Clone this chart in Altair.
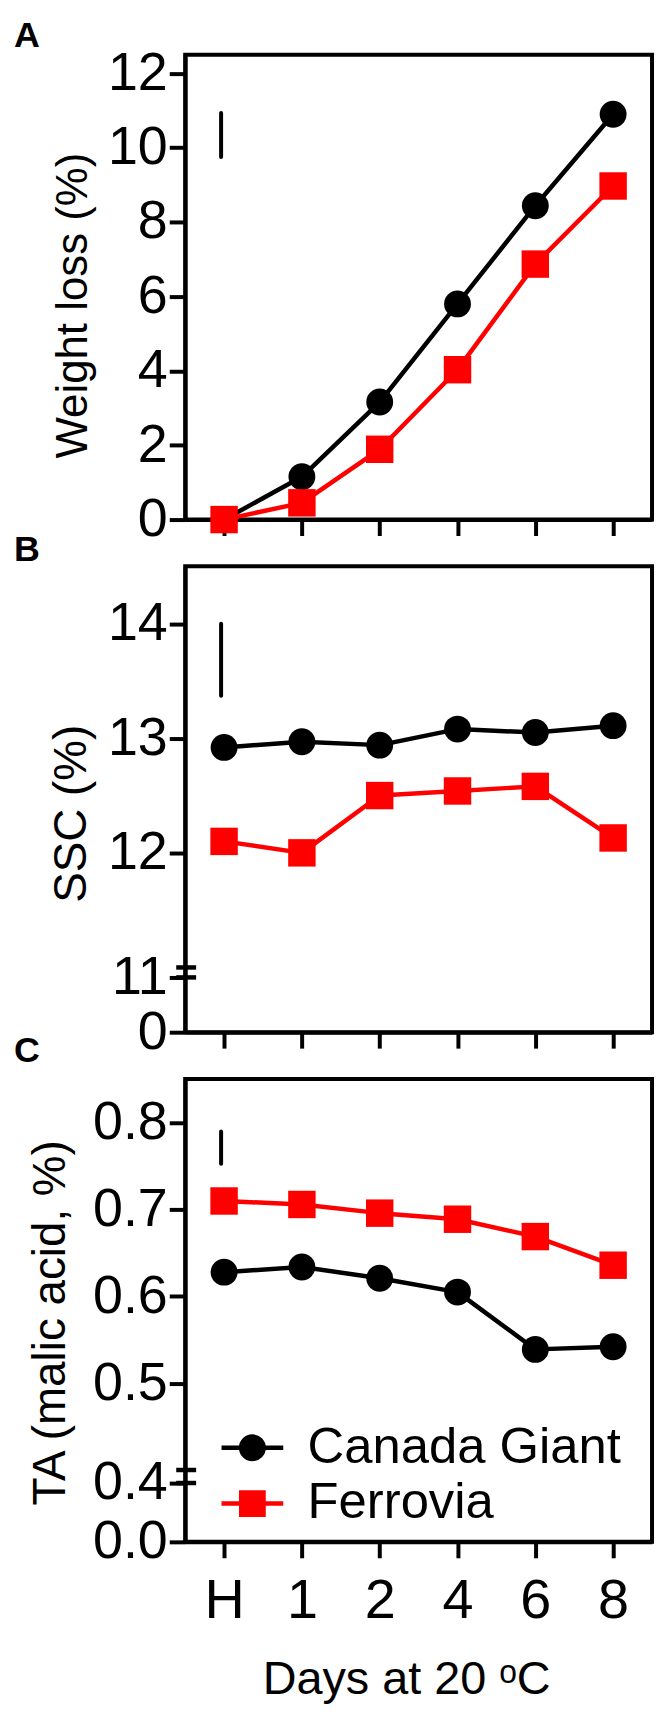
import altair as alt
import pandas as pd

# ---------------- data ----------------
days = ["H", "1", "2", "4", "6", "8"]
cultivars = ["Canada Giant", "Ferrovia"]
colors = ["#000000", "#ff0000"]
shapes = ["circle", "square"]
marker_sizes = [729, 760]

wl_cg = [0.0, 1.15, 3.16, 5.80, 8.44, 10.90]
wl_fe = [0.0, 0.45, 1.89, 4.03, 6.87, 8.97]
ssc_cg = [12.92, 12.97, 12.94, 13.08, 13.05, 13.11]
ssc_fe = [12.10, 12.00, 12.50, 12.54, 12.58, 12.13]
ta_cg = [0.628, 0.634, 0.621, 0.605, 0.539, 0.542]
ta_fe = [0.710, 0.706, 0.696, 0.689, 0.669, 0.636]

lsd_wl = [9.75, 10.93]
lsd_ssc = [13.37, 14.00]
lsd_ta = [0.753, 0.790]

wl_domain = [0, 12.5]
wl_ticks = [0, 2, 4, 6, 8, 10, 12]
wl_labels = ["0", "2", "4", "6", "8", "10", "12"]

ssc_domain = [10.435, 14.5]
ssc_ticks = [10.435, 10.913, 12, 13, 14]
ssc_labels = ["0", "11", "12", "13", "14"]
ssc_breaks = [11.0, 10.913]

ta_domain = [0.3172, 0.8506]
ta_ticks = [0.3172, 0.385, 0.5, 0.6, 0.7, 0.8]
ta_labels = ["0.0", "0.4", "0.5", "0.6", "0.7", "0.8"]
ta_breaks = [0.400, 0.385]

panel_letters = ["A", "B", "C"]
x_title = "Days at 20 \u1d52C"

FONT = "Liberation Sans, Arial, Helvetica, sans-serif"
W = 469

circle_path = "M-1.55,0H1.55M-0.565,0A0.565,0.565,0,1,1,0.565,0A0.565,0.565,0,1,1,-0.565,0Z"
square_path = "M-1.55,0H1.55M-0.56,-0.56H0.56V0.56H-0.56Z"


def label_expr(ticks, labels):
    expr = "''"
    for v, l in reversed(list(zip(ticks, labels))):
        expr = f"abs(datum.value - ({v})) < 1e-6 ? '{l}' : ({expr})"
    return expr


def make_panel(cg, fe, lsd, dom, ticks, labels, ytitle, tfs, tpad, tshift,
               height, letter, letter_y, breaks=None, bottom=False):
    df = pd.DataFrame({
        "Day": days * 2,
        "Value": cg + fe,
        "Cultivar": [cultivars[0]] * len(days) + [cultivars[1]] * len(days),
    })
    xaxis = alt.Axis(labels=bottom, title=x_title if bottom else None,
                     labelFontSize=56, labelPadding=16, labelAngle=0,
                     titleFontSize=47, titlePadding=28, titleX=222)
    X = alt.X("Day:N", sort=days, scale=alt.Scale(type="point", padding=0.5),
              axis=xaxis)
    Y = alt.Y("Value:Q", scale=alt.Scale(domain=dom, nice=False, zero=False),
              axis=alt.Axis(values=ticks, labelExpr=label_expr(ticks, labels),
                            labelOverlap=False, labelBound=False,
                            title=ytitle, titleFontSize=tfs, titlePadding=tpad,
                            titleY=height / 2 + tshift, labelPadding=2),
              title=ytitle)

    layers = []
    for name, colr, shp, sz in zip(cultivars, colors, shapes, marker_sizes):
        base = alt.Chart(df).transform_filter(alt.datum.Cultivar == name)
        layers.append(base.mark_line(strokeWidth=4.5, strokeJoin="round",
                                     color=colr).encode(x=X, y=Y))
        layers.append(base.mark_point(shape=shp, filled=True, size=sz, opacity=1,
                                      color=colr).encode(x=X, y=Y))

    lsd_df = pd.DataFrame({"Day": [days[0]], "Value": [lsd[0]], "Value2": [lsd[1]]})
    layers.append(alt.Chart(lsd_df).mark_rule(strokeWidth=4, strokeCap="round",
                                              color="black", xOffset=-3).encode(
        x=X, y=Y, y2=alt.Y2("Value2:Q")))

    let_df = pd.DataFrame({"label": [letter]})
    layers.append(alt.Chart(let_df).mark_text(
        font=FONT, fontSize=36, fontWeight="bold", align="left", baseline="top",
        color="black").encode(x=alt.value(-172), y=alt.value(letter_y), text="label:N"))

    if breaks:
        br_df = pd.DataFrame({"Value": breaks})
        layers.append(alt.Chart(br_df).mark_rule(strokeWidth=4.5, color="black").encode(
            y=Y, x=alt.value(-9), x2=alt.value(11)))

    if bottom:
        leg = alt.Legend(orient="none", legendX=42, legendY=345, title=None,
                         symbolSize=1600, symbolStrokeWidth=4.5, symbolOpacity=1,
                         labelFontSize=51, labelFont=FONT, labelColor="black",
                         labelLimit=600, labelOffset=30, rowPadding=4, padding=0,
                         labelBaseline="middle")
        cs = alt.Scale(domain=cultivars, range=colors)
        lg = alt.Chart(df).transform_filter(alt.datum.Value < -1e9).mark_point().encode(
            x=X, y=Y,
            fill=alt.Fill("Cultivar:N", scale=cs, legend=leg),
            stroke=alt.Stroke("Cultivar:N", scale=cs, legend=leg),
            shape=alt.Shape("Cultivar:N", scale=alt.Scale(domain=cultivars,
                                                          range=[circle_path, square_path]),
                            legend=leg),
        )
        layers.append(lg)

    return alt.layer(*layers).properties(width=W, height=height)


pA = make_panel(wl_cg, wl_fe, lsd_wl, wl_domain, wl_ticks, wl_labels,
                "Weight loss (%)", 44, 12, 18, 467, panel_letters[0], -36)
pB = make_panel(ssc_cg, ssc_fe, lsd_ssc, ssc_domain, ssc_ticks, ssc_labels,
                "SSC (%)", 46, 12, 14, 468, panel_letters[1], -33, breaks=ssc_breaks)
pC = make_panel(ta_cg, ta_fe, lsd_ta, ta_domain, ta_ticks, ta_labels,
                "TA (malic acid, %)", 46, 18, 12, 465, panel_letters[2], -45,
                breaks=ta_breaks, bottom=True)

chart = alt.vconcat(pA, pB, pC, spacing=47, bounds="flush").resolve_scale(
    fill="independent", stroke="independent", shape="independent"
).resolve_legend(
    fill="independent", stroke="independent", shape="independent"
).properties(
    padding=4
).configure_view(
    stroke="black", strokeWidth=4
).configure_axis(
    grid=False, domainColor="black", domainWidth=4, tickColor="black",
    tickWidth=4, tickSize=16, labelFont=FONT, labelFontSize=54,
    labelColor="black", titleFont=FONT, titleFontWeight="normal",
    titleColor="black"
).configure_text(font=FONT)

chart.save("out.html", embed_options={"renderer": "svg", "actions": False})
